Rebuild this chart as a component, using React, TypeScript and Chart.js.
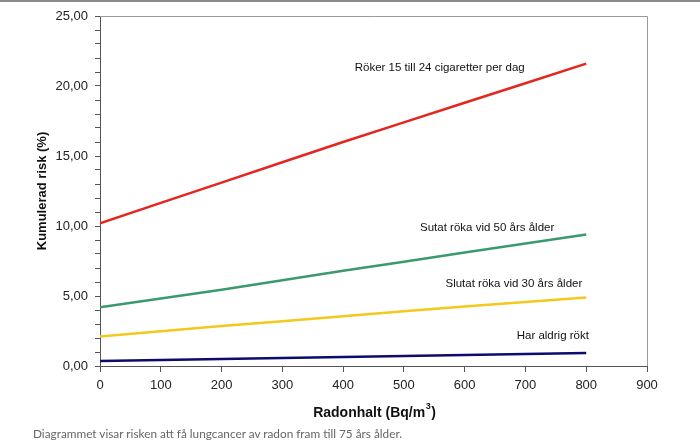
import React, { useEffect, useRef } from "react";
import { Chart, registerables } from "chart.js";

Chart.register(...registerables);

const radon = [0, 200, 400, 600, 800];
const rokerRisk = [10.2, 13.1, 16.0, 18.8, 21.6];
const sutat50Risk = [4.2, 5.45, 6.8, 8.1, 9.4];
const slutat30Risk = [2.1, 2.85, 3.55, 4.25, 4.9];
const aldrigRisk = [0.35, 0.5, 0.65, 0.78, 0.92];

const seriesNames = [
  "Röker 15 till 24 cigaretter per dag",
  "Sutat röka vid 50 års ålder",
  "Slutat röka vid 30 års ålder",
  "Har aldrig rökt",
];
const seriesColors = ["#e3261e", "#3b9a6b", "#f4c81e", "#0c0c6e"];
// label anchor positions in data units (x, y)
const labelAnchors: [number, number][] = [
  [559, 21.3],
  [637, 9.9],
  [681, 5.9],
  [745, 2.15],
];

const yTitle = "Kumulerad risk (%)";
const xTitleMain = "Radonhalt (Bq/m";
const xTitleSup = "3";
const xTitleEnd = ")";
const caption = "Diagrammet visar risken att få lungcancer av radon fram till 75 års ålder.";

const FONT = "'Liberation Sans', Arial, sans-serif";

const decorPlugin = {
  id: "decor",
  afterDraw(chart: any) {
    const { ctx, chartArea, scales } = chart;
    ctx.save();
    // top and right frame
    ctx.strokeStyle = "#9a9a9a";
    ctx.lineWidth = 1;
    ctx.beginPath();
    ctx.moveTo(chartArea.left, chartArea.top + 0.5);
    ctx.lineTo(chartArea.right + 0.5, chartArea.top + 0.5);
    ctx.lineTo(chartArea.right + 0.5, chartArea.bottom);
    ctx.stroke();
    // series labels
    ctx.fillStyle = "#111";
    ctx.font = `11.5px ${FONT}`;
    ctx.textAlign = "center";
    ctx.textBaseline = "middle";
    seriesNames.forEach((n, i) => {
      const [xv, yv] = labelAnchors[i];
      ctx.fillText(n, scales.x.getPixelForValue(xv), scales.y.getPixelForValue(yv));
    });
    // x axis title with superscript
    const mainFont = `bold 14px ${FONT}`;
    const supFont = `bold 9px ${FONT}`;
    ctx.font = mainFont;
    const w1 = ctx.measureText(xTitleMain).width;
    const w3 = ctx.measureText(xTitleEnd).width;
    ctx.font = supFont;
    const w2 = ctx.measureText(xTitleSup).width;
    const total = w1 + w2 + w3;
    let x0 = 374 - total / 2;
    const yb = 413;
    ctx.textAlign = "left";
    ctx.textBaseline = "middle";
    ctx.font = mainFont;
    ctx.fillText(xTitleMain, x0, yb);
    ctx.font = supFont;
    ctx.fillText(xTitleSup, x0 + w1 + 0.5, yb - 6);
    ctx.font = mainFont;
    ctx.fillText(xTitleEnd, x0 + w1 + w2 + 1, yb);
    // y axis title
    ctx.textAlign = "center";
    ctx.font = `bold 13px ${FONT}`;
    ctx.translate(42, (chartArea.top + chartArea.bottom) / 2);
    ctx.rotate(-Math.PI / 2);
    ctx.fillText(yTitle, 0, 0);
    ctx.restore();
  },
};

export default function App() {
  const ref = useRef<HTMLCanvasElement | null>(null);
  useEffect(() => {
    if (!ref.current) return;
    const mk = (data: number[], i: number) => ({
      label: seriesNames[i],
      data: radon.map((x, k) => ({ x, y: data[k] })),
      borderColor: seriesColors[i],
      backgroundColor: seriesColors[i],
      borderWidth: 2.5,
      pointRadius: 0,
      tension: 0.3,
    });
    const chart = new Chart(ref.current, {
      type: "line",
      data: {
        datasets: [
          mk(rokerRisk, 0),
          mk(sutat50Risk, 1),
          mk(slutat30Risk, 2),
          mk(aldrigRisk, 3),
        ],
      },
      options: {
        animation: false,
        responsive: false,
        maintainAspectRatio: false,
        layout: { padding: { left: 0, right: 53, top: 16, bottom: 0 } },
        plugins: { legend: { display: false }, tooltip: { enabled: false } },
        scales: {
          x: {
            type: "linear",
            min: 0,
            max: 900,
            ticks: {
              stepSize: 100,
              color: "#222",
              font: { family: FONT, size: 13 },
              padding: 6,
              maxRotation: 0,
            },
            grid: {
              drawOnChartArea: false,
              drawTicks: true,
              tickLength: 6,
              color: "#555",
            },
            border: { color: "#555", width: 1 },
            afterFit: (s: any) => {
              s.height = 74;
            },
          },
          y: {
            min: 0,
            max: 25,
            ticks: {
              stepSize: 1,
              autoSkip: false,
              color: "#222",
              font: { family: FONT, size: 13 },
              padding: 7,
              callback: (v: any) =>
                Number(v) % 5 === 0 ? Number(v).toFixed(2).replace(".", ",") : "",
            },
            grid: {
              drawOnChartArea: false,
              drawTicks: true,
              tickLength: 5,
              color: "#555",
            },
            border: { color: "#555", width: 1 },
            afterFit: (s: any) => {
              s.width = 100;
            },
          },
        },
      },
      plugins: [decorPlugin],
    } as any);
    return () => chart.destroy();
  }, []);
  return (
    <div
      style={{
        position: "fixed",
        left: 0,
        top: 0,
        width: 700,
        height: 440,
        background: "#fff",
        overflow: "hidden",
      }}
    >
      <div style={{ position: "absolute", left: 0, top: 0, width: 700, height: 2, background: "#8a8a8a" }} />
      <canvas ref={ref} width={700} height={440} style={{ position: "absolute", left: 0, top: 0 }} />
      <div
        style={{
          position: "absolute",
          left: 33,
          top: 427,
          fontFamily: "Lato, 'Open Sans', sans-serif",
          fontSize: 11.8,
          color: "#666",
          whiteSpace: "nowrap",
          lineHeight: "13px",
        }}
      >
        {caption}
      </div>
    </div>
  );
}
